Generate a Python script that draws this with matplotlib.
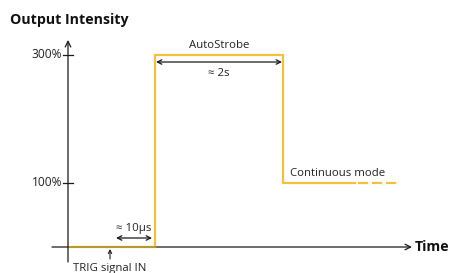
import matplotlib
matplotlib.use("Agg")
import matplotlib.pyplot as plt

# ---- data ----
# time in arbitrary units (trigger ~0, strobe rises at 1)
pulse_t = [0.02, 1.0, 1.0, 2.47, 2.47, 3.30]
pulse_y = [0, 0, 300, 300, 100, 100]
cont_t = [3.33, 3.80]
cont_y = [100, 100]
ytick_vals = [100, 300]
ytick_labels = ["100%", "300%"]

FONT = ["Open Sans", "DejaVu Sans"]
plt.rcParams['font.family'] = FONT

W, H = 452, 273
fig = plt.figure(figsize=(W / 100, H / 100), dpi=100)
ax = fig.add_axes([0, 0, 1, 1])
# pixel mapping: x=68px -> t=0, 87px per unit; y=247px -> 0%, 64px per 100%
px_per_t = 87.0
x0 = 68.0
ax.set_xlim(-x0 / px_per_t, (W - x0) / px_per_t)
y0 = 247.0
px_per_pct = 0.64
ax.set_ylim(-(H - y0) / px_per_pct, y0 / px_per_pct)
ax.axis('off')

def tx(px):
    return (px - x0) / px_per_t

def ty(py):
    return (y0 - py) / px_per_pct

axis_col = "#1a1a1a"
yellow = "#F5C03A"
txt = "#222222"
fs = 8.2

# axes arrows
ax.annotate("", xy=(tx(412), 0), xytext=(tx(52), 0),
            arrowprops=dict(arrowstyle="->", color=axis_col, lw=0.9, shrinkA=0, shrinkB=0,
                            mutation_scale=10))
ax.annotate("", xy=(0, ty(40)), xytext=(0, ty(262)),
            arrowprops=dict(arrowstyle="->", color=axis_col, lw=0.9, shrinkA=0, shrinkB=0,
                            mutation_scale=10))
# ticks
for v, lab in zip(ytick_vals, ytick_labels):
    ax.plot([tx(63), tx(73)], [v, v], color=axis_col, lw=0.9)
    ax.text(tx(62), v, lab, ha='right', va='center', fontsize=8.6, color=txt)

# pulse
ax.plot(pulse_t, pulse_y, color=yellow, lw=1.6, solid_joinstyle='miter', zorder=3)
ax.plot(pulse_t[:2], pulse_y[:2], color="#B8962E", lw=1.4, zorder=4)
ax.plot(cont_t, cont_y, color=yellow, lw=1.6, dashes=(4.6, 1.7), zorder=3)

# annotations
ax.annotate("", xy=(tx(282), ty(62)), xytext=(tx(156), ty(62)),
            arrowprops=dict(arrowstyle="<->", color=axis_col, lw=0.9, shrinkA=0, shrinkB=0,
                            mutation_scale=8))
ax.text(tx(219), ty(45), "AutoStrobe", ha='center', va='center', fontsize=fs, color=txt)
ax.text(tx(219), ty(74), "≈ 2s", ha='center', va='center', fontsize=fs, color=txt)

ax.annotate("", xy=(tx(152), ty(238)), xytext=(tx(116), ty(238)),
            arrowprops=dict(arrowstyle="<->", color=axis_col, lw=0.9, shrinkA=0, shrinkB=0,
                            mutation_scale=8))
ax.text(tx(134), ty(228), "≈ 10µs", ha='center', va='center', fontsize=fs, color=txt)

ax.annotate("", xy=(tx(110), ty(249)), xytext=(tx(110), ty(259)),
            arrowprops=dict(arrowstyle="->", color=axis_col, lw=0.8, shrinkA=0, shrinkB=0,
                            mutation_scale=6))
ax.text(tx(110), ty(269), "TRIG signal IN", ha='center', va='center', fontsize=fs, color=txt)

ax.text(tx(290), ty(173), "Continuous mode", ha='left', va='center', fontsize=fs, color=txt)

ax.text(tx(415), ty(247), "Time", ha='left', va='center', fontsize=10.2, fontweight='bold', color="#111111")
ax.text(tx(10), ty(20), "Output Intensity", ha='left', va='center', fontsize=10.2, fontweight='bold', color="#111111")

fig.savefig("out.png", dpi=100)
